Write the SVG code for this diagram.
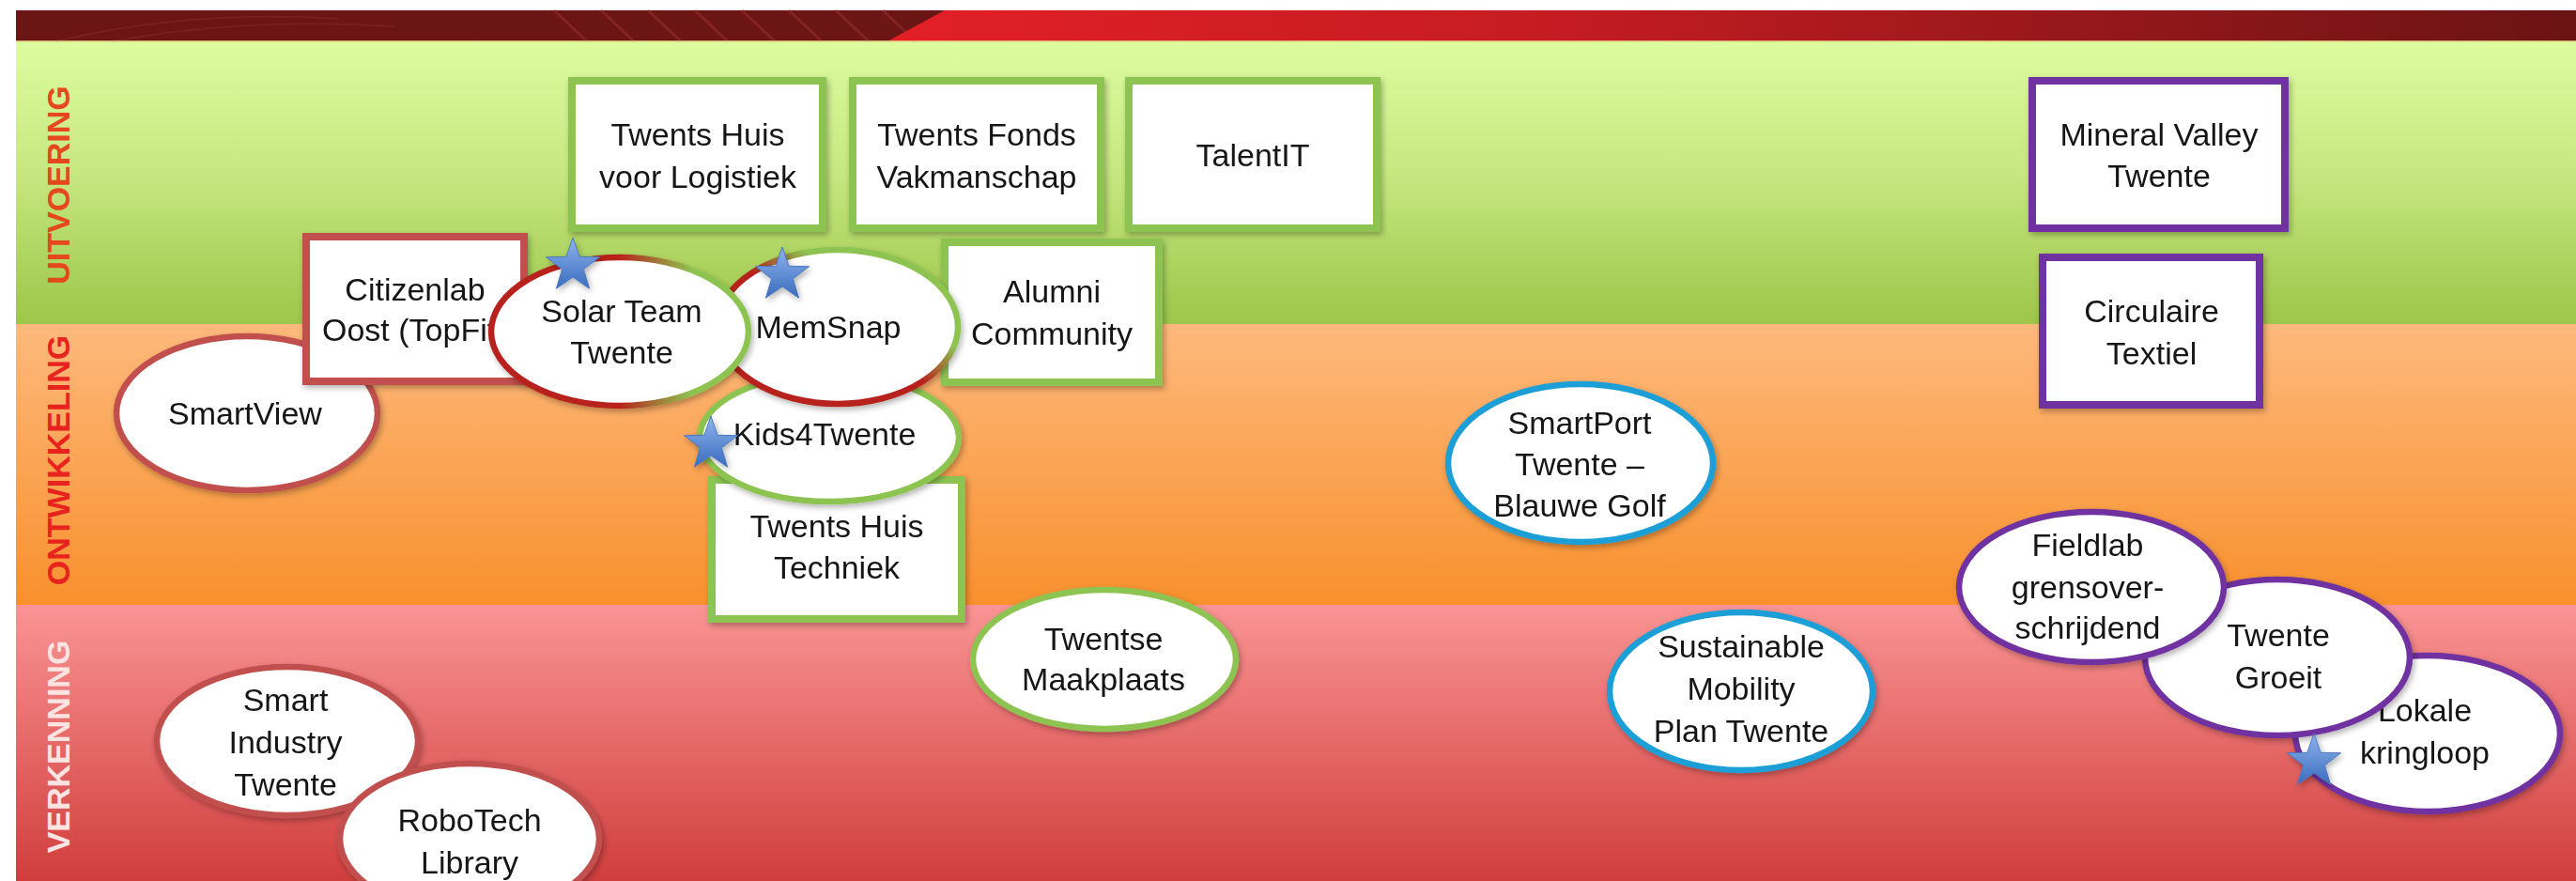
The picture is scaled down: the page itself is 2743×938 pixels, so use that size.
<svg xmlns="http://www.w3.org/2000/svg" width="2743" height="938" viewBox="0 0 2743 938">
<style>
.t{font-family:"Liberation Sans",Arial,sans-serif;font-size:34px;fill:#141414;text-anchor:middle}
.side{font-family:"Liberation Sans",Arial,sans-serif;font-size:34px;font-weight:bold;text-anchor:middle}
.box{fill:#fff;stroke-width:8}
.ell{fill:#fff;stroke-width:6.5}
.g{stroke:#8dc451}
.p{stroke:#7030a0}
.r{stroke:#c0504d}
.b{stroke:#1f9fd6}
.star{fill:url(#starG);stroke:#4a78c0;stroke-width:1}
</style>
<defs>
<linearGradient id="bgG" x1="0" y1="0" x2="0" y2="1"><stop offset="0" stop-color="#ddfc9f"/><stop offset="0.45" stop-color="#c8e882"/><stop offset="1" stop-color="#9cc649"/></linearGradient>
<linearGradient id="bgO" x1="0" y1="0" x2="0" y2="1"><stop offset="0" stop-color="#fdb97c"/><stop offset="1" stop-color="#f8902d"/></linearGradient>
<linearGradient id="bgR" x1="0" y1="0" x2="0" y2="1"><stop offset="0" stop-color="#fa9494"/><stop offset="1" stop-color="#d03e3c"/></linearGradient>
<linearGradient id="hdr" gradientUnits="userSpaceOnUse" x1="945" y1="0" x2="2743" y2="0"><stop offset="0" stop-color="#e21f27"/><stop offset="0.4" stop-color="#c41c22"/><stop offset="1" stop-color="#6a1313"/></linearGradient>
<linearGradient id="solarS" x1="0" y1="0" x2="1" y2="0"><stop offset="0" stop-color="#b8241c"/><stop offset="0.5" stop-color="#b8241c"/><stop offset="0.78" stop-color="#8dc451"/><stop offset="1" stop-color="#8dc451"/></linearGradient>
<linearGradient id="memS" x1="0" y1="1" x2="1" y2="0"><stop offset="0" stop-color="#b8241c"/><stop offset="0.5" stop-color="#b8241c"/><stop offset="0.68" stop-color="#8dc451"/><stop offset="1" stop-color="#8dc451"/></linearGradient>
<linearGradient id="starG" x1="0" y1="0" x2="0" y2="1"><stop offset="0" stop-color="#8fb4ec"/><stop offset="1" stop-color="#3a6cbf"/></linearGradient>
<filter id="sh" x="-10%" y="-10%" width="130%" height="130%"><feDropShadow dx="2" dy="3" stdDeviation="3" flood-color="#000" flood-opacity="0.3"/></filter>
<path id="starP" d="M0,-30 L7.05,-9.71 L28.53,-9.27 L11.41,3.71 L17.63,24.27 L0,12 L-17.63,24.27 L-11.41,3.71 L-28.53,-9.27 L-7.05,-9.71 Z"/>
</defs>

<g id="background">
<rect x="0" y="0" width="2743" height="938" fill="#fff"/>
<rect x="17" y="43" width="2726" height="302" fill="url(#bgG)"/>
<rect x="17" y="345" width="2726" height="299" fill="url(#bgO)"/>
<rect x="17" y="644" width="2726" height="294" fill="url(#bgR)"/>
<rect x="17" y="11" width="2726" height="33" fill="#6c1515"/>
<g stroke="#8e2a2a" stroke-width="3" opacity="0.7">
<line x1="590" y1="11" x2="625" y2="44"/><line x1="640" y1="11" x2="675" y2="44"/><line x1="690" y1="11" x2="725" y2="44"/><line x1="740" y1="11" x2="775" y2="44"/><line x1="790" y1="11" x2="825" y2="44"/><line x1="840" y1="11" x2="875" y2="44"/><line x1="890" y1="11" x2="925" y2="44"/><line x1="940" y1="11" x2="975" y2="44"/>
</g>
<path d="M60,44 Q200,10 360,20 M120,44 Q260,18 420,28" fill="none" stroke="#85292a" stroke-width="2" opacity="0.5"/>
<polygon points="1006,11 2743,11 2743,44 945,44" fill="url(#hdr)"/>
<rect x="17" y="43" width="2726" height="2" fill="#e8d98a" opacity="0.7"/>
<text class="side" transform="translate(74,197) rotate(-90)" fill="#e5481c">UITVOERING</text>
<text class="side" transform="translate(74,490) rotate(-90)" fill="#e8221c">ONTWIKKELING</text>
<text class="side" transform="translate(74,795) rotate(-90)" fill="#fde4e2">VERKENNING</text>
</g>

<g id="connectors"></g>

<g id="smartview" filter="url(#sh)"><ellipse class="ell r" cx="263" cy="440" rx="139" ry="82"/><text class="t" x="261" y="452">SmartView</text></g>
<g id="citizenlab" filter="url(#sh)"><rect class="box r" x="326" y="252" width="232" height="154" stroke-width="7"/><text class="t" x="442" y="320">Citizenlab</text><text class="t" x="343" y="363" style="text-anchor:start">Oost (TopFit</text></g>

<g id="twents-huis-logistiek" filter="url(#sh)"><rect class="box g" x="609" y="86" width="267" height="157"/><text class="t" x="743" y="155">Twents Huis</text><text class="t" x="743" y="200">voor Logistiek</text></g>
<g id="twents-fonds" filter="url(#sh)"><rect class="box g" x="908" y="86" width="264" height="157"/><text class="t" x="1040" y="155">Twents Fonds</text><text class="t" x="1040" y="200">Vakmanschap</text></g>
<g id="talentit" filter="url(#sh)"><rect class="box g" x="1202" y="86" width="264" height="157"/><text class="t" x="1334" y="177">TalentIT</text></g>

<g id="alumni" filter="url(#sh)"><rect class="box g" x="1006" y="258" width="228" height="149"/><text class="t" x="1120" y="322">Alumni</text><text class="t" x="1120" y="367">Community</text></g>
<g id="twents-huis-techniek" filter="url(#sh)"><rect class="box g" x="758" y="511" width="266" height="148"/><text class="t" x="891" y="572">Twents Huis</text><text class="t" x="891" y="616">Techniek</text></g>

<g id="kids4twente" filter="url(#sh)"><ellipse class="ell g" cx="883" cy="466" rx="138" ry="68"/><text class="t" x="878" y="474">Kids4Twente</text></g>
<g id="memsnap" filter="url(#sh)"><ellipse class="ell" cx="892" cy="348" rx="128" ry="82" stroke="url(#memS)"/><text class="t" x="882" y="360">MemSnap</text></g>
<g id="solar-team" filter="url(#sh)"><ellipse class="ell" cx="660" cy="353" rx="137" ry="79" stroke="url(#solarS)"/><text class="t" x="662" y="343">Solar Team</text><text class="t" x="662" y="387">Twente</text></g>

<g id="smart-industry" filter="url(#sh)"><ellipse class="ell r" cx="306" cy="789" rx="139" ry="79"/><text class="t" x="304" y="757">Smart</text><text class="t" x="304" y="802">Industry</text><text class="t" x="304" y="847">Twente</text></g>
<g id="robotech" filter="url(#sh)"><ellipse class="ell r" cx="500" cy="893" rx="138" ry="80"/><text class="t" x="500" y="885">RoboTech</text><text class="t" x="500" y="930">Library</text></g>

<g id="twentse-maakplaats" filter="url(#sh)"><ellipse class="ell g" cx="1176" cy="702" rx="140" ry="74"/><text class="t" x="1175" y="692">Twentse</text><text class="t" x="1175" y="735">Maakplaats</text></g>
<g id="smartport" filter="url(#sh)"><ellipse class="ell b" cx="1683" cy="493" rx="141" ry="84"/><text class="t" x="1682" y="462">SmartPort</text><text class="t" x="1682" y="506">Twente –</text><text class="t" x="1682" y="550">Blauwe Golf</text></g>
<g id="sustainable-mobility" filter="url(#sh)"><ellipse class="ell b" cx="1854" cy="736" rx="140" ry="84"/><text class="t" x="1854" y="700">Sustainable</text><text class="t" x="1854" y="745">Mobility</text><text class="t" x="1854" y="790">Plan Twente</text></g>

<g id="lokale-kringloop" filter="url(#sh)"><ellipse class="ell p" cx="2585" cy="781" rx="141" ry="83"/><text class="t" x="2582" y="768">Lokale</text><text class="t" x="2582" y="813">kringloop</text></g>
<g id="twente-groeit" filter="url(#sh)"><ellipse class="ell p" cx="2425" cy="700" rx="141" ry="83"/><text class="t" x="2426" y="688">Twente</text><text class="t" x="2426" y="733">Groeit</text></g>
<g id="fieldlab" filter="url(#sh)"><ellipse class="ell p" cx="2227" cy="625" rx="141" ry="80"/><text class="t" x="2223" y="592">Fieldlab</text><text class="t" x="2223" y="637">grensover-</text><text class="t" x="2223" y="680">schrijdend</text></g>

<g id="mineral-valley" filter="url(#sh)"><rect class="box p" x="2164" y="86" width="269" height="157"/><text class="t" x="2299" y="155">Mineral Valley</text><text class="t" x="2299" y="199">Twente</text></g>
<g id="circulaire-textiel" filter="url(#sh)"><rect class="box p" x="2175" y="274" width="231" height="157"/><text class="t" x="2291" y="343">Circulaire</text><text class="t" x="2291" y="388">Textiel</text></g>

<g id="stars" filter="url(#sh)">
<use href="#starP" class="star" x="610" y="283"/>
<use href="#starP" class="star" x="833" y="293"/>
<use href="#starP" class="star" x="757" y="473"/>
<use href="#starP" class="star" x="2464" y="811"/>
</g>
</svg>
